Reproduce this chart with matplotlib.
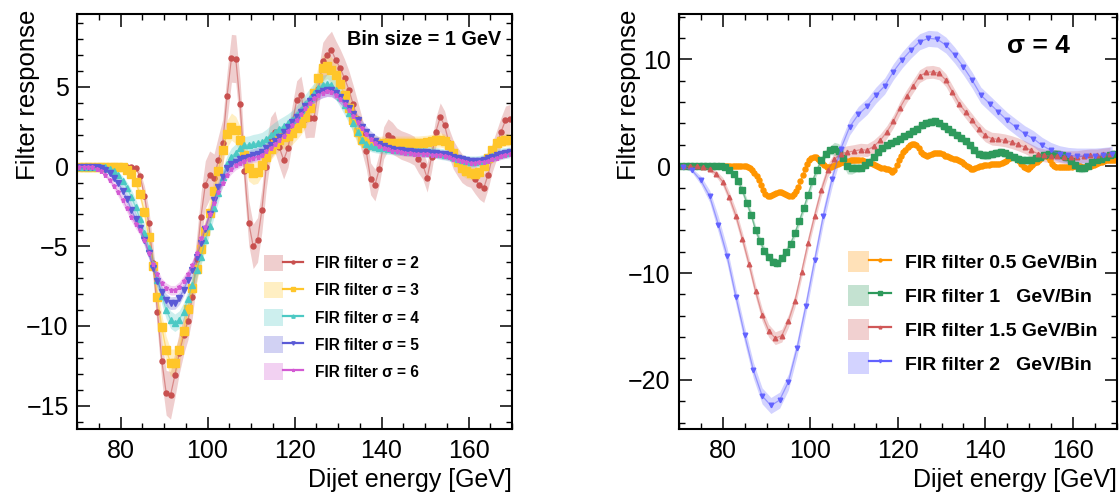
import numpy as np
import matplotlib
matplotlib.use('Agg')
import matplotlib.pyplot as plt
from matplotlib.patches import Patch
from matplotlib.lines import Line2D
from matplotlib.legend_handler import HandlerTuple
from matplotlib.ticker import MultipleLocator

plt.rcParams['font.family'] = ['Liberation Sans', 'DejaVu Sans']

# ---------------- data: left panel (1 GeV bins, centres 70.5 ... 169.5) ----------------
E1 = np.arange(70.5, 170.0, 1.0)

sigma2 = [0, 0, 0, 0, 0, 0, 0, 0, 0, 0,
          0, 0, -0.05, -0.1, -0.6, -1.82, -3.55, -6.07, -9.12, -12.2,
          -14.2, -14.35, -13.1, -11.7, -10.6, -9.67, -8.2, -5.8, -3.14, -1.13,
          -0.52, -0.71, 0.42, 1.47, 4.44, 6.8, 6.77, 3.9, -0.25, -3.55,
          -5.0, -4.6, -2.72, 0.0, 1.8, 2.2, 1.22, 0.42, 1.15, 2.7,
          4.19, 4.48, 3.0, 3.04, 3.04, 4.9, 6.6, 7.0, 7.3, 6.7,
          6.17, 5.55, 4.82, 3.9, 3.0, 2.0, 0.95, -0.77, -1.15, -0.14,
          1.5, 2.0, 1.78, 1.53, 1.36, 1.26, 1.15, 1.0, 0.5, 0.1,
          -0.7, 0.6, 2.2, 3.1, 2.6, 1.5, 0.75, 0.3, -0.1, -0.3,
          -0.4, -0.8, -1.15, -1.35, -0.5, 0.6, 1.4, 2.2, 2.9, 3.0]
sigma2_err = [0, 0, 0, 0, 0, 0, 0, 0, 0, 0,
              0, 0, 0.05, 0.1, 0.3, 0.6, 0.9, 1.1, 1.2, 1.3,
              1.4, 1.5, 1.4, 1.3, 1.2, 1.2, 1.3, 1.4, 1.5, 1.5,
              1.5, 1.5, 1.5, 1.5, 1.5, 1.5, 1.5, 1.5, 1.4, 1.4,
              1.4, 1.4, 1.4, 1.4, 1.3, 1.3, 1.2, 1.2, 1.2, 1.2,
              1.2, 1.2, 1.2, 1.2, 1.2, 1.2, 1.2, 1.2, 1.2, 1.2,
              1.2, 1.2, 1.2, 1.2, 1.1, 1.1, 1.1, 1.0, 1.0, 1.0,
              1.0, 1.0, 1.0, 0.9, 0.9, 0.9, 0.9, 0.9, 0.9, 0.9,
              0.9, 0.9, 0.9, 0.9, 0.9, 0.9, 0.9, 0.9, 0.9, 0.9,
              0.9, 0.9, 0.9, 0.9, 0.9, 0.9, 0.9, 0.9, 0.9, 0.9]

sigma3 = [0, 0, 0, 0, 0, 0, 0, 0, 0, 0,
          -0.05, -0.2, -0.46, -0.98, -1.74, -2.86, -4.43, -6.23, -8.2, -10.08,
          -11.5, -12.3, -12.3, -11.5, -10.3, -8.95, -7.6, -6.45, -5.2, -4.06,
          -2.89, -1.53, -0.25, 1.05, 2.05, 2.51, 2.3, 1.68, 0.75, -0.06,
          -0.42, -0.35, 0.1, 0.63, 1.1, 1.45, 1.7, 1.85, 1.95, 2.1,
          2.4, 2.72, 3.14, 3.7, 4.6, 5.55, 6.18, 6.34, 6.07, 5.76,
          5.2, 4.5, 3.7, 2.9, 2.2, 1.7, 1.5, 1.47, 1.45, 1.45,
          1.47, 1.47, 1.47, 1.47, 1.47, 1.47, 1.47, 1.47, 1.47, 1.5,
          1.52, 1.58, 1.65, 1.68, 1.6, 1.36, 0.84, 0.31, -0.1, -0.3,
          -0.42, -0.48, -0.31, 0.06, 0.52, 1.05, 1.47, 1.6, 1.68, 1.68]
sigma3_err = ([0] * 10 + [0.03, 0.08, 0.15, 0.25, 0.35, 0.45, 0.55, 0.65, 0.75, 0.8]
              + [0.85] * 20 + [0.7] * 15 + [0.8] * 10 + [0.45] * 25 + [0.4] * 10)

sigma4 = [0, 0, 0, 0, 0, 0, -0.05, -0.15, -0.3, -0.55,
          -0.9, -1.35, -1.9, -2.55, -3.3, -4.15, -5.1, -6.1, -7.1, -8.1,
          -9.0, -9.6, -9.8, -9.6, -9.1, -8.3, -7.4, -6.5, -5.65, -4.6,
          -3.7, -2.6, -1.67, -0.63, 0.15, 0.63, 0.88, 1.19, 1.34, 1.38,
          1.42, 1.47, 1.55, 1.74, 1.99, 2.2, 2.39, 2.55, 2.72, 2.93,
          3.24, 3.58, 3.94, 4.3, 4.65, 4.95, 5.15, 5.2, 5.1, 4.8,
          4.35, 3.85, 3.35, 2.75, 2.15, 1.7, 1.45, 1.3, 1.22, 1.18,
          1.15, 1.12, 1.1, 1.07, 1.05, 1.02, 1.0, 1.0, 0.98, 0.95,
          0.92, 0.9, 0.86, 0.8, 0.76, 0.7, 0.6, 0.48, 0.4, 0.34,
          0.32, 0.32, 0.35, 0.42, 0.52, 0.64, 0.74, 0.82, 0.86, 0.9]
sigma4_err = ([0] * 6 + [0.03, 0.08, 0.15, 0.22, 0.3, 0.38, 0.45, 0.5]
              + [0.55] * 26 + [0.6] * 25 + [0.35] * 35)

sigma5 = [0, 0, 0, 0, -0.05, -0.1, -0.2, -0.4, -0.7, -1.05,
          -1.5, -2.05, -2.7, -3.3, -3.85, -4.6, -5.4, -6.35, -7.2, -7.9,
          -8.37, -8.57, -8.55, -8.26, -7.74, -7.11, -6.48, -5.7, -4.8, -3.9,
          -3.0, -2.09, -1.3, -0.63, -0.1, 0.17, 0.32, 0.46, 0.55, 0.63,
          0.73, 0.8, 0.94, 1.15, 1.36, 1.63, 1.88, 2.2, 2.47, 2.83,
          3.14, 3.45, 3.81, 4.1, 4.4, 4.6, 4.72, 4.8, 4.78, 4.6,
          4.35, 4.02, 3.66, 3.28, 2.9, 2.5, 2.15, 1.85, 1.62, 1.45,
          1.3, 1.2, 1.12, 1.07, 1.02, 0.98, 0.95, 0.93, 0.92, 0.9,
          0.9, 0.88, 0.86, 0.82, 0.77, 0.7, 0.62, 0.53, 0.45, 0.4,
          0.37, 0.36, 0.38, 0.44, 0.52, 0.6, 0.7, 0.8, 0.88, 0.93]
sigma5_err = ([0] * 4 + [0.02, 0.05, 0.1, 0.15, 0.2, 0.25, 0.3, 0.35]
              + [0.4] * 58 + [0.25] * 30)

sigma6 = [0, 0, -0.02, -0.05, -0.12, -0.25, -0.5, -0.83, -1.19, -1.59,
          -2.09, -2.59, -3.14, -3.6, -4.0, -4.6, -5.44, -6.1, -6.74, -7.32,
          -7.6, -7.76, -7.76, -7.53, -7.15, -6.74, -6.17, -5.44, -4.5, -3.77,
          -3.0, -2.3, -1.6, -1.0, -0.5, -0.15, 0.1, 0.25, 0.35, 0.45,
          0.55, 0.62, 0.75, 0.95, 1.15, 1.4, 1.65, 1.95, 2.25, 2.6,
          2.95, 3.3, 3.65, 4.0, 4.3, 4.5, 4.65, 4.72, 4.7, 4.52,
          4.26, 3.94, 3.58, 3.2, 2.82, 2.42, 2.06, 1.75, 1.5, 1.32,
          1.18, 1.08, 1.0, 0.95, 0.9, 0.86, 0.83, 0.81, 0.8, 0.78,
          0.78, 0.76, 0.74, 0.7, 0.65, 0.58, 0.5, 0.42, 0.34, 0.28,
          0.25, 0.24, 0.26, 0.31, 0.38, 0.46, 0.55, 0.65, 0.73, 0.8]
sigma6_err = ([0, 0, 0.01, 0.03, 0.06, 0.1, 0.15, 0.2, 0.25]
              + [0.3] * 61 + [0.2] * 30)

# ---------------- data: right panel (sigma = 4, different bin sizes) ----------------
E05 = np.arange(70.25, 170.0, 0.5)
bin05 = [0] * 31 + [
    -0.05, -0.15, -0.35, -0.6, -0.9, -1.3, -1.8, -2.25, -2.6, -2.75,
    -2.75, -2.7, -2.6, -2.5, -2.43, -2.43, -2.5, -2.6, -2.7, -2.75,
    -2.75, -2.6, -2.3, -1.9, -1.4, -0.85, -0.3, 0.2, 0.55, 0.75,
    0.85, 0.85, 0.72, 0.5, 0.3, 0.1, -0.05, -0.08, -0.05, 0.0,
    0.1, 0.2, 0.28, 0.35, 0.4, 0.45, 0.5, 0.55, 0.6, 0.6,
    0.6, 0.6, 0.58, 0.52, 0.42, 0.35, 0.28, 0.2, 0.12, 0.05,
    -0.05, -0.12, -0.2, -0.22, -0.25, -0.35, -0.5, -0.4, 0.1, 0.6,
    1.0, 1.3, 1.55, 1.8, 1.95, 2.05, 2.1, 1.95, 1.73, 1.35,
    1.15, 1.05, 1.0, 1.05, 1.15, 1.23, 1.25, 1.23, 1.2, 1.1,
    1.0, 0.92, 0.86, 0.8, 0.72, 0.65, 0.58, 0.52, 0.4, 0.25,
    0.05, -0.1, -0.22, -0.22, -0.15, -0.05, 0.0, 0.05, 0.1, 0.12,
    0.15, 0.17, 0.2, 0.22, 0.23, 0.23, 0.28, 0.38, 0.52, 0.65,
    0.78, 0.85, 0.85, 0.7, 0.45, 0.2, -0.05, -0.2, -0.23, -0.1,
    0.1, 0.28, 0.4, 0.6, 0.8, 0.95, 1.01, 0.9, 0.6, 0.25,
    0.05, -0.05, -0.08, -0.08, -0.08, -0.08, -0.08, -0.08, -0.05, -0.02,
    0.0, 0.0, 0.0, -0.05, -0.08, -0.08, -0.02, 0.05, 0.12, 0.2,
    0.28, 0.36, 0.44, 0.52, 0.6, 0.62, 0.62, 0.6, 0.6]
bin05_err = [0] * 31 + [0.05, 0.1, 0.15] + [0.25] * 166

E10 = np.arange(70.5, 170.0, 1.0)
bin10 = [0, 0, 0, 0, 0, 0, 0, 0, 0, 0,
         -0.1, -0.39, -0.7, -1.4, -2.27, -3.43, -4.55, -5.96, -7.0, -7.9,
         -8.53, -8.94, -9.06, -8.59, -8.0, -7.28, -6.25, -5.12, -3.95, -2.65,
         -1.4, -0.39, 0.54, 1.17, 1.48, 1.64, 1.42, 0.8, -0.02, -0.14,
         -0.14, -0.14, 0.08, 0.39, 0.85, 1.32, 1.73, 1.95, 2.17, 2.36,
         2.58, 2.8, 3.05, 3.3, 3.52, 3.83, 4.05, 4.17, 4.2, 4.0,
         3.74, 3.45, 3.2, 2.92, 2.65, 2.35, 1.95, 1.55, 1.17, 1.05,
         1.01, 1.12, 1.25, 1.32, 1.22, 1.05, 0.85, 0.7, 0.56, 0.54,
         0.56, 0.75, 0.9, 1.02, 1.1, 1.17, 1.12, 1.01, 0.82, 0.5,
         0.1, -0.2, -0.2, 0.0, 0.35, 0.55, 0.72, 0.88, 1.05, 1.17]
bin10_err = ([0] * 10 + [0.1, 0.2, 0.3] + [0.4] * 22 + [0.6, 0.7, 0.7, 0.7, 0.6]
             + [0.4] * 60)

E15 = np.arange(71.0, 169.0, 1.5)
bin15 = [0, 0, -0.02, -0.1, -0.3, -0.7, -1.45, -2.9, -4.62, -6.81,
         -9.16, -11.7, -13.9, -15.4, -16.1, -15.86, -14.5, -12.6, -9.94, -7.15,
         -4.62, -2.27, -0.39, 0.64, 1.17, 1.32, 1.42, 1.55, 1.5, 1.86,
         2.42, 3.2, 4.2, 5.46, 6.55, 7.49, 8.43, 8.78, 8.84, 8.69,
         8.06, 6.96, 5.87, 5.08, 4.3, 3.52, 2.89, 2.58, 2.52, 2.42,
         2.26, 2.05, 1.8, 1.48, 1.17, 1.01, 0.95, 0.95, 0.85, 0.85,
         0.85, 0.95, 1.01, 1.01, 1.1, 1.17]
bin15_err = [0, 0, 0.02, 0.1, 0.2, 0.3, 0.4, 0.5] + [0.6] * 58

E20 = np.arange(71.0, 170.0, 2.0)
bin20 = [-0.05, -0.4, -1.33, -2.8, -5.46, -8.4, -12.2, -15.8, -19.1, -21.5,
         -22.4, -21.9, -20.2, -17.0, -13.07, -8.8, -4.62, -1.17, 1.64, 3.67,
         4.85, 5.6, 6.65, 7.5, 8.85, 9.95, 10.87, 11.65, 11.97, 11.9,
         11.34, 10.4, 9.3, 8.06, 6.65, 5.87, 5.08, 4.3, 3.67, 3.05,
         2.58, 1.95, 1.48, 1.17, 1.01, 0.95, 0.95, 0.95, 1.01, 1.1]
bin20_err = [0.02, 0.2, 0.4, 0.55] + [0.75] * 46

left_labels = ['FIR filter σ = 2', 'FIR filter σ = 3', 'FIR filter σ = 4',
               'FIR filter σ = 5', 'FIR filter σ = 6']
right_labels = ['FIR filter 0.5 GeV/Bin', 'FIR filter 1   GeV/Bin',
                'FIR filter 1.5 GeV/Bin', 'FIR filter 2   GeV/Bin']

# ---------------- styles ----------------
left_series = [
    (E1, sigma2, sigma2_err, '#c8504f', 'o', 3.6),
    (E1, sigma3, sigma3_err, '#ffc62a', 's', 5.5),
    (E1, sigma4, sigma4_err, '#4cc9c4', '^', 4.0),
    (E1, sigma5, sigma5_err, '#5a5ad6', 'v', 4.0),
    (E1, sigma6, sigma6_err, '#d35ad3', '*', 3.6),
]
right_series = [
    (E05, bin05, bin05_err, '#ff9500', 'o', 3.6),
    (E10, bin10, bin10_err, '#2e9a5c', 's', 5.0),
    (E15, bin15, bin15_err, '#d05858', '^', 3.3),
    (E20, bin20, bin20_err, '#6262ff', 'v', 3.3),
]

fig = plt.figure(figsize=(11.2, 4.94), dpi=100)
axL = fig.add_axes([77 / 1120, 65 / 494, 435 / 1120, 415 / 494])
axR = fig.add_axes([679 / 1120, 65 / 494, 437.5 / 1120, 415 / 494])


def draw(ax, series):
    handles = []
    for (x, y, e, c, m, ms) in series:
        y = np.asarray(y, dtype=float)
        e = np.broadcast_to(np.asarray(e, dtype=float), y.shape)
        ax.fill_between(x, y - e, y + e, color=c, alpha=0.28, lw=0)
        ax.plot(x, y, color=c, lw=0.9, alpha=0.55)
        ax.plot(x, y, ls='none', marker=m, ms=ms, color=c, mec=c)
        handles.append((Patch(facecolor=c, alpha=0.28, lw=0),
                        Line2D([], [], color=c, lw=1.6, marker=m, ms=ms * 0.6)))
    return handles


def style(ax, ymaj, ymin):
    ax.set_xlim(70, 170)
    ax.xaxis.set_major_locator(MultipleLocator(20))
    ax.xaxis.set_minor_locator(MultipleLocator(5))
    ax.yaxis.set_major_locator(MultipleLocator(ymaj))
    ax.yaxis.set_minor_locator(MultipleLocator(ymin))
    ax.tick_params(which='both', direction='in', top=True, right=True)
    ax.tick_params(which='major', length=9, width=1.1, labelsize=18)
    ax.tick_params(which='minor', length=4.5, width=1.0)
    ax.tick_params(axis='x', pad=7)
    ax.tick_params(axis='y', pad=6)
    for s in ax.spines.values():
        s.set_linewidth(1.5)
    ax.set_xlabel('Dijet energy [GeV]', fontsize=18, loc='right')
    ax.set_ylabel('Filter response', fontsize=18.5, loc='top')


hL = draw(axL, left_series)
style(axL, 5, 1)
axL.set_ylim(-16.47, 9.58)
axL.yaxis.set_label_coords(-0.085, 1.01)
axL.text(0.975, 0.925, 'Bin size = 1 GeV', transform=axL.transAxes, ha='right',
         va='baseline', fontsize=14.3, fontweight='bold')
axL.legend(hL, left_labels, handler_map={tuple: HandlerTuple(ndivide=None)},
           loc='upper left', bbox_to_anchor=((264 - 77) / 435, (429 - 255) / 415),
           frameon=False, borderpad=0, borderaxespad=0, prop={'size': 11.2, 'weight': 'bold'},
           handlelength=2.5, handleheight=1.25, labelspacing=0.68, handletextpad=0.8)

hR = draw(axR, right_series)
style(axR, 10, 2)
axR.set_ylim(-24.6, 14.25)
axR.yaxis.set_label_coords(-0.087, 1.01)
axR.text(0.75, 0.905, 'σ = 4', transform=axR.transAxes, ha='left', va='baseline',
         fontsize=19, fontweight='bold')
axR.legend(hR, right_labels, handler_map={tuple: HandlerTuple(ndivide=None)},
           loc='upper left', bbox_to_anchor=((848 - 679) / 437.5, (429 - 251) / 415),
           frameon=False, borderpad=0, borderaxespad=0, prop={'size': 14, 'weight': 'bold'},
           handlelength=2.2, handleheight=1.3, labelspacing=0.65, handletextpad=0.75)

fig.savefig('out.png', dpi=100)
